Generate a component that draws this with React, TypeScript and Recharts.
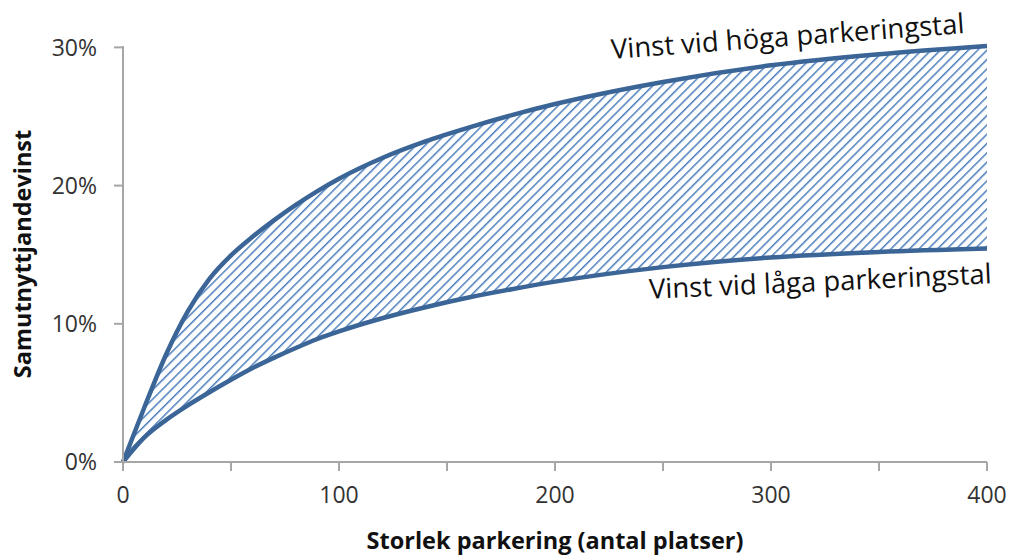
import { ComposedChart, Area, Line, XAxis, YAxis, ReferenceDot, Label } from "recharts"

// storlek parkering (antal platser)
const sizes = [0, 10, 20, 30, 40, 50, 60, 70, 80, 90, 100, 120, 140, 160, 180, 200, 250, 300, 350, 400]
// vinst vid höga parkeringstal
const highGain = [0, 0.04, 0.078, 0.109, 0.1325, 0.1495, 0.163, 0.175, 0.186, 0.196, 0.205, 0.22, 0.232, 0.242, 0.251, 0.259, 0.275, 0.287, 0.295, 0.301]
// vinst vid låga parkeringstal
const lowGain = [0, 0.018, 0.0305, 0.041, 0.0505, 0.0595, 0.068, 0.0755, 0.0825, 0.089, 0.0945, 0.104, 0.112, 0.119, 0.125, 0.1305, 0.141, 0.148, 0.152, 0.1545]

const xTicks = [0, 50, 100, 150, 200, 250, 300, 350, 400]
const yTicks = [0, 0.1, 0.2, 0.3]

const highLabel = "Vinst vid höga parkeringstal"
const lowLabel = "Vinst vid låga parkeringstal"

const data = sizes.map((size, i) => ({
  size,
  high: highGain[i],
  low: lowGain[i],
  band: [lowGain[i], highGain[i]],
}))

const lineColor = "#3b6597"
const hatchColor = "#4a7ebd"
const axisColor = "#a6a6a6"

function rotatedLabel(text: string, angle: number) {
  return (props: any) => {
    const vb = props.viewBox || {}
    const x = (vb.x ?? 0) + (vb.width ?? 0) / 2
    const y = (vb.y ?? 0) + (vb.height ?? 0) / 2
    return (
      <text
        x={x}
        y={y}
        textAnchor="middle"
        fill="#111"
        fontSize={27.5}
        fontFamily="Open Sans"
        transform={`rotate(${angle} ${x} ${y})`}
      >
        {text}
      </text>
    )
  }
}

export default function App() {
  return (
    <div style={{ position: "absolute", left: 0, top: 0, width: 1014, height: 555, background: "#fff", fontFamily: "Open Sans" }}>
      <ComposedChart width={1014} height={555} data={data} margin={{ top: 46, right: 27, bottom: 0, left: 0 }}>
        <defs>
          <pattern id="hatch" patternUnits="userSpaceOnUse" width="6.6" height="6.6" patternTransform="rotate(45)">
            <line x1="0" y1="0" x2="0" y2="6.6" stroke={hatchColor} strokeWidth={3} />
          </pattern>
        </defs>
        <XAxis
          dataKey="size"
          type="number"
          domain={[0, 400]}
          ticks={xTicks}
          interval={0}
          height={93}
          tickSize={9}
          tickMargin={16}
          tickFormatter={(v) => (v % 100 === 0 ? String(v) : "")}
          tick={{ fill: "#333", fontSize: 23 }}
          axisLine={{ stroke: axisColor, strokeWidth: 2 }}
          tickLine={{ stroke: axisColor, strokeWidth: 2 }}
        >
          <Label
            value="Storlek parkering (antal platser)"
            position="insideBottom"
            offset={6}
            style={{ fontSize: 23.5, fontWeight: 700, fill: "#111" }}
          />
        </XAxis>
        <YAxis
          type="number"
          domain={[0, 0.3]}
          ticks={yTicks}
          width={123}
          tickSize={9}
          tickMargin={17}
          tickFormatter={(v) => `${Math.round(v * 100)}%`}
          tick={{ fill: "#333", fontSize: 23 }}
          axisLine={{ stroke: axisColor, strokeWidth: 2 }}
          tickLine={{ stroke: axisColor, strokeWidth: 2 }}
        >
          <Label
            value="Samutnyttjandevinst"
            angle={-90}
            position="insideLeft"
            offset={23}
            style={{ fontSize: 23.5, fontWeight: 700, fill: "#111", textAnchor: "middle" }}
          />
        </YAxis>
        <Area
          type="monotone"
          dataKey="band"
          stroke="none"
          fill="url(#hatch)"
          fillOpacity={1}
          isAnimationActive={false}
        />
        <Line type="monotone" dataKey="high" stroke={lineColor} strokeWidth={4.5} dot={false} isAnimationActive={false} />
        <Line type="monotone" dataKey="low" stroke={lineColor} strokeWidth={4.5} dot={false} isAnimationActive={false} />
        <ReferenceDot x={308} y={0.301} r={1} fill="none" stroke="none" label={rotatedLabel(highLabel, -4.2)} />
        <ReferenceDot x={323} y={0.1237} r={1} fill="none" stroke="none" label={rotatedLabel(lowLabel, -2.6)} />
      </ComposedChart>
    </div>
  )
}
